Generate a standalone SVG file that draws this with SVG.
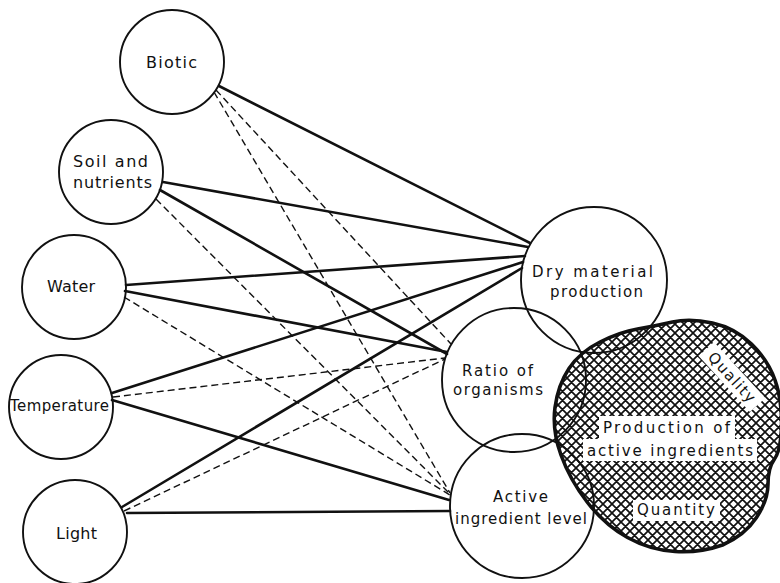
<svg xmlns="http://www.w3.org/2000/svg" width="780" height="583" viewBox="0 0 780 583">
<style>
.node{fill:none;stroke:#111;stroke-width:1.9}
.solid{fill:none;stroke:#111;stroke-width:2.6;stroke-linecap:round}
.dash{fill:none;stroke:#111;stroke-width:1.4;stroke-dasharray:7 4}
text{font-family:"DejaVu Sans","Liberation Sans",sans-serif;font-size:15px;fill:#111}
.big{font-size:16px}
.box{fill:#fff;stroke:none}
</style>
<defs>
<pattern id="hatch" patternUnits="userSpaceOnUse" width="9" height="9">
<rect width="9" height="9" fill="#fff"/>
<path d="M0,0 L9,9 M9,0 L0,9 M-1,8 L1,10 M8,-1 L10,1 M-1,1 L1,-1 M8,10 L10,8" stroke="#111" stroke-width="1.7"/>
</pattern>
</defs>
<rect width="780" height="583" fill="#fff"/>

<g id="blob">
<path d="M569,368.5 Q580,352 600,342 Q620,332 637.5,329 Q655,326 672.5,322 Q690,318 712.5,323 Q735,328 751.5,344 Q768,360 775,380 Q782,400 781.5,425 Q781,450 774.5,459 Q768,468 768,484 Q768,500 756.5,517.5 Q745,535 722.5,545 Q700,553 675,551.5 Q650,550 627.5,537.5 Q605,525 587.5,502.5 Q570,480 561,455 Q552,430 555,407.5 Q558,385 569,368.5 Z" fill="url(#hatch)" stroke="#111" stroke-width="3.6"/>
<rect class="box" x="599" y="416" width="136" height="23"/>
<rect class="box" x="583" y="439" width="174" height="22"/>
<rect class="box" x="633" y="500" width="87" height="21"/>
<g transform="translate(732,377) rotate(47.5)">
<rect class="box" x="-38" y="-10.5" width="76" height="21"/>
<text x="-31" y="5.5" textLength="62" lengthAdjust="spacing">Quality</text>
</g>
<text x="603" y="433" textLength="127" lengthAdjust="spacing">Production of</text>
<text x="587" y="456" textLength="166" lengthAdjust="spacing">active ingredients</text>
<text x="637" y="515" textLength="78" lengthAdjust="spacing">Quantity</text>
</g>

<g id="connectors">
<line class="solid" x1="219" y1="86" x2="530" y2="243"/>
<line class="solid" x1="163" y1="182" x2="528" y2="247"/>
<line class="solid" x1="160" y1="190" x2="447" y2="354"/>
<line class="solid" x1="126" y1="285" x2="525" y2="256"/>
<line class="solid" x1="125" y1="291" x2="447" y2="352"/>
<line class="solid" x1="112" y1="393" x2="523" y2="262"/>
<line class="solid" x1="112" y1="400" x2="449" y2="500"/>
<line class="solid" x1="122" y1="507" x2="522" y2="268"/>
<line class="solid" x1="127" y1="513" x2="450" y2="511"/>
<line class="dash" x1="216" y1="90" x2="451" y2="344"/>
<line class="dash" x1="214" y1="92" x2="450" y2="493"/>
<line class="dash" x1="156" y1="199" x2="450" y2="494"/>
<line class="dash" x1="124" y1="297" x2="450" y2="495"/>
<line class="dash" x1="113" y1="397" x2="445" y2="358"/>
<line class="dash" x1="124" y1="511" x2="445" y2="359"/>
</g>

<g id="biotic">
<circle class="node" cx="172" cy="62" r="52"/>
<text class="big" x="146" y="68" textLength="51" lengthAdjust="spacing">Biotic</text>
</g>
<g id="soil">
<circle class="node" cx="111" cy="172" r="52"/>
<text class="big" x="73" y="167" textLength="75" lengthAdjust="spacing">Soil and</text>
<text class="big" x="73" y="188" textLength="79" lengthAdjust="spacing">nutrients</text>
</g>
<g id="water">
<circle class="node" cx="74" cy="287" r="52"/>
<text class="big" x="47" y="292" textLength="48" lengthAdjust="spacing">Water</text>
</g>
<g id="temperature">
<circle class="node" cx="61" cy="407" r="52"/>
<text x="10" y="411" textLength="99" lengthAdjust="spacing">Temperature</text>
</g>
<g id="light">
<circle class="node" cx="75" cy="532" r="52"/>
<text class="big" x="56" y="539" textLength="41" lengthAdjust="spacing">Light</text>
</g>
<g id="dry">
<circle class="node" cx="594" cy="280" r="73"/>
<text x="532" y="277" textLength="121" lengthAdjust="spacing">Dry material</text>
<text x="550" y="297" textLength="93" lengthAdjust="spacing">production</text>
</g>
<g id="ratio">
<circle class="node" cx="514" cy="380" r="72"/>
<text x="462" y="376" textLength="71" lengthAdjust="spacing">Ratio of</text>
<text x="453" y="395" textLength="90" lengthAdjust="spacing">organisms</text>
</g>
<g id="active">
<circle class="node" cx="522" cy="506" r="72"/>
<text x="493" y="502" textLength="55" lengthAdjust="spacing">Active</text>
<text x="455" y="524" textLength="132" lengthAdjust="spacing">ingredient level</text>
</g>
</svg>
